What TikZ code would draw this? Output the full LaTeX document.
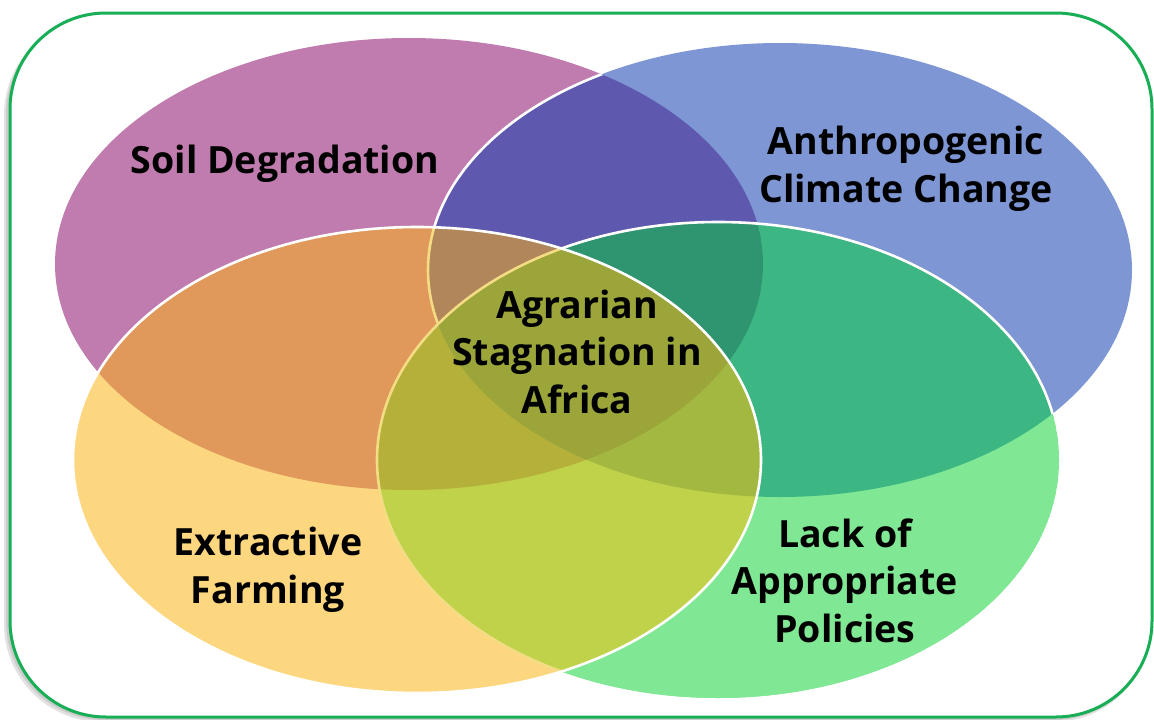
\documentclass[tikz,border=0pt]{standalone}
\usepackage{fontspec}
\setmainfont{Open Sans}
\definecolor{cP}{HTML}{C07BAF}
\definecolor{cB}{HTML}{7F96D4}
\definecolor{cY}{HTML}{FDD780}
\definecolor{cG}{HTML}{80E894}
\definecolor{cPB}{HTML}{5E58AE}
\definecolor{cPY}{HTML}{E0995A}
\definecolor{cPG}{HTML}{A8A060}
\definecolor{cBY}{HTML}{A89C80}
\definecolor{cBG}{HTML}{3CB683}
\definecolor{cYG}{HTML}{C0D24A}
\definecolor{cPBY}{HTML}{B0865A}
\definecolor{cPBG}{HTML}{2F9470}
\definecolor{cPYG}{HTML}{B4B03A}
\definecolor{cBYG}{HTML}{A3B840}
\definecolor{cPBYG}{HTML}{9BA53A}
\definecolor{lineY}{HTML}{F3DC84}
\definecolor{frameG}{HTML}{18AE55}
\def\Pell{(409,264) ellipse [x radius=354pt, y radius=226pt]}
\def\Bell{(780,270) ellipse [x radius=352pt, y radius=227pt]}
\def\Yell{(417,460) ellipse [x radius=344pt, y radius=233pt]}
\def\Gell{(718,460) ellipse [x radius=341pt, y radius=238pt]}
\newcommand\paintregions{%
 \fill[cP] \Pell; \fill[cB] \Bell; \fill[cY] \Yell; \fill[cG] \Gell;
 \begin{scope}\clip \Pell; \fill[cPB] \Bell; \end{scope}
 \begin{scope}\clip \Pell; \fill[cPY] \Yell; \end{scope}
 \begin{scope}\clip \Pell; \fill[cPG] \Gell; \end{scope}
 \begin{scope}\clip \Bell; \fill[cBY] \Yell; \end{scope}
 \begin{scope}\clip \Bell; \fill[cBG] \Gell; \end{scope}
 \begin{scope}\clip \Yell; \fill[cYG] \Gell; \end{scope}
 \begin{scope}\clip \Pell; \clip \Bell; \fill[cPBY] \Yell; \end{scope}
 \begin{scope}\clip \Pell; \clip \Bell; \fill[cPBG] \Gell; \end{scope}
 \begin{scope}\clip \Pell; \clip \Yell; \fill[cPYG] \Gell; \end{scope}
 \begin{scope}\clip \Bell; \clip \Yell; \fill[cBYG] \Gell; \end{scope}
 \begin{scope}\clip \Pell; \clip \Bell; \clip \Yell; \fill[cPBYG] \Gell; \end{scope}
}
\tikzset{
 lbl/.style={font=\fontsize{37.5}{47.5}\selectfont\bfseries, text=black, align=center, inner sep=0pt, anchor=base},
 edgeline/.style={line width=2.6pt},
}
\begin{document}
\begin{tikzpicture}[x=1pt,y=-1pt]
\useasboundingbox (0,0) rectangle (1154,720);
% frame with soft shadow
\fill[black!45, opacity=0.25, rounded corners=98pt] (4,17) rectangle (1151,722);
\fill[black!45, opacity=0.25, rounded corners=98pt] (6,16) rectangle (1152,720);
\fill[white, rounded corners=96pt] (10,13) rectangle (1152,717);
\draw[frameG, line width=3pt, rounded corners=96pt] (10,13) rectangle (1152,717);
% regions
\paintregions
\begin{scope}\clip \Pell; \draw[white, edgeline] \Bell; \end{scope}
\begin{scope}\clip \Gell; \paintregions \end{scope}
\begin{scope}\clip \Bell; \draw[white, edgeline] \Gell; \end{scope}
\begin{scope}\clip \Yell; \paintregions \end{scope}
\begin{scope}\clip \Yell; \draw[lineY, edgeline] \Bell; \end{scope}
\begin{scope}\clip \Yell; \clip \Gell; \paintregions \end{scope}
\begin{scope}\clip \Yell; \draw[lineY, edgeline] \Gell; \end{scope}
\draw[white, edgeline] \Yell;
% labels (anchor = baseline of the last line)
\node[lbl] (soil) at (285,173) {Soil Degradation};
\node[lbl] (climate) at (906,202) {Anthropogenic\\Climate Change};
\node[lbl] (agrarian) at (577,413) {Agrarian\\Stagnation in\\Africa};
\node[lbl] (extract) at (268,603) {Extractive\\Farming};
\node[lbl] (policy) at (845,642) {Lack of\\Appropriate\\Policies};
\end{tikzpicture}
\end{document}
